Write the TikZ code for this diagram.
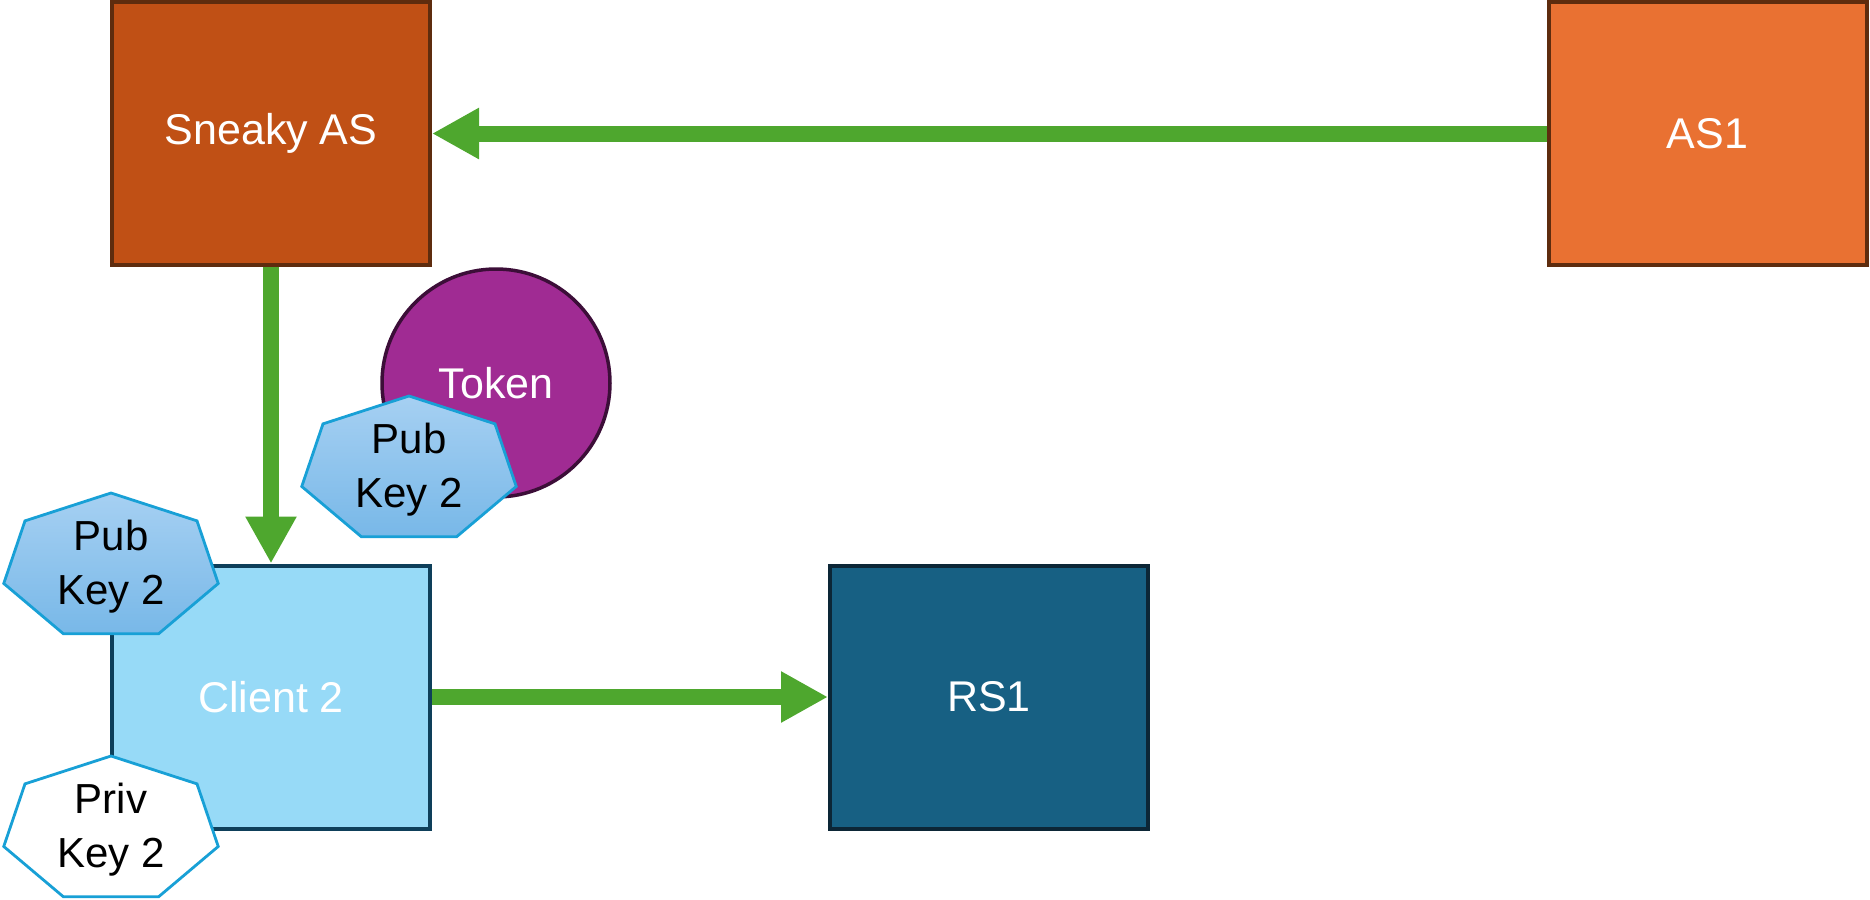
\documentclass[tikz,border=0pt]{standalone}
\usepackage{fontspec}
\setmainfont{Liberation Sans}
\usetikzlibrary{arrows.meta}
\definecolor{sneakyfill}{RGB}{192,80,21}
\definecolor{asfill}{RGB}{233,113,50}
\definecolor{brownline}{RGB}{94,44,14}
\definecolor{arrgreen}{RGB}{78,167,46}
\definecolor{tokenfill}{RGB}{160,43,147}
\definecolor{tokenline}{RGB}{60,14,56}
\definecolor{clientfill}{RGB}{151,218,247}
\definecolor{clientline}{RGB}{14,63,90}
\definecolor{rsfill}{RGB}{23,96,131}
\definecolor{rsline}{RGB}{12,38,54}
\definecolor{keyline}{RGB}{24,160,214}
\definecolor{keytop}{RGB}{166,208,242}
\definecolor{keybot}{RGB}{120,184,232}
\tikzset{
  box/.style={draw, line width=2pt, minimum width=159pt, minimum height=131.5pt,
    text=white, font=\fontsize{21.5}{27}\selectfont, inner sep=0pt},
  arr/.style={draw=arrgreen, line width=8pt,
    -{Triangle[length=23.5pt 0 0, width=24pt 0 0]}},
  pubkey/.style={draw=keyline, line width=1.4pt, top color=keytop, bottom color=keybot, line join=miter},
  privkey/.style={draw=keyline, line width=1.4pt, fill=white, line join=miter},
  keytext/.style={align=center, font=\fontsize{21}{27}\selectfont, text=black, inner sep=0pt}
}
\newcommand\heptagon[5]{%
  \path[#4] (#2,#3) +(-90:110 and 74) -- +(-38.571:110 and 74) -- +(12.857:110 and 74)
    -- +(64.286:110 and 74) -- +(115.714:110 and 74) -- +(167.143:110 and 74)
    -- +(218.571:110 and 74) -- cycle;
  \node[keytext] (#1) at (#2,#3) {#5};}
\begin{document}
\begin{tikzpicture}[x=0.5pt, y=-0.5pt]
\useasboundingbox (0,0) rectangle (1870,900);
\node[box, fill=sneakyfill, draw=brownline] (sneaky) at (271,133.5) {Sneaky AS};
\node[box, fill=asfill, draw=brownline] (as1) at (1707.5,133.5) {AS1};
\node[box, fill=clientfill, draw=clientline] (client) at (271,697) {Client 2};
\node[box, fill=rsfill, draw=rsline] (rs1) at (989,697) {RS1};
\path[arr] (as1.west) -- (sneaky.east);
\path[arr] (sneaky.south) -- (client.north);
\path[arr] (client.east) -- (rs1.west);
\node[circle, draw=tokenline, fill=tokenfill, line width=1.75pt, minimum size=114pt,
  inner sep=0pt] (token) at (496,383) {};
\node[text=white, font=\fontsize{21.5}{27}\selectfont] (tokentext) at (496,383) {Token};
\heptagon{pub1}{409}{470}{pubkey}{Pub\\Key 2}
\heptagon{pub2}{111}{567}{pubkey}{Pub\\Key 2}
\heptagon{priv}{111}{830}{privkey}{Priv\\Key 2}
\end{tikzpicture}
\end{document}
